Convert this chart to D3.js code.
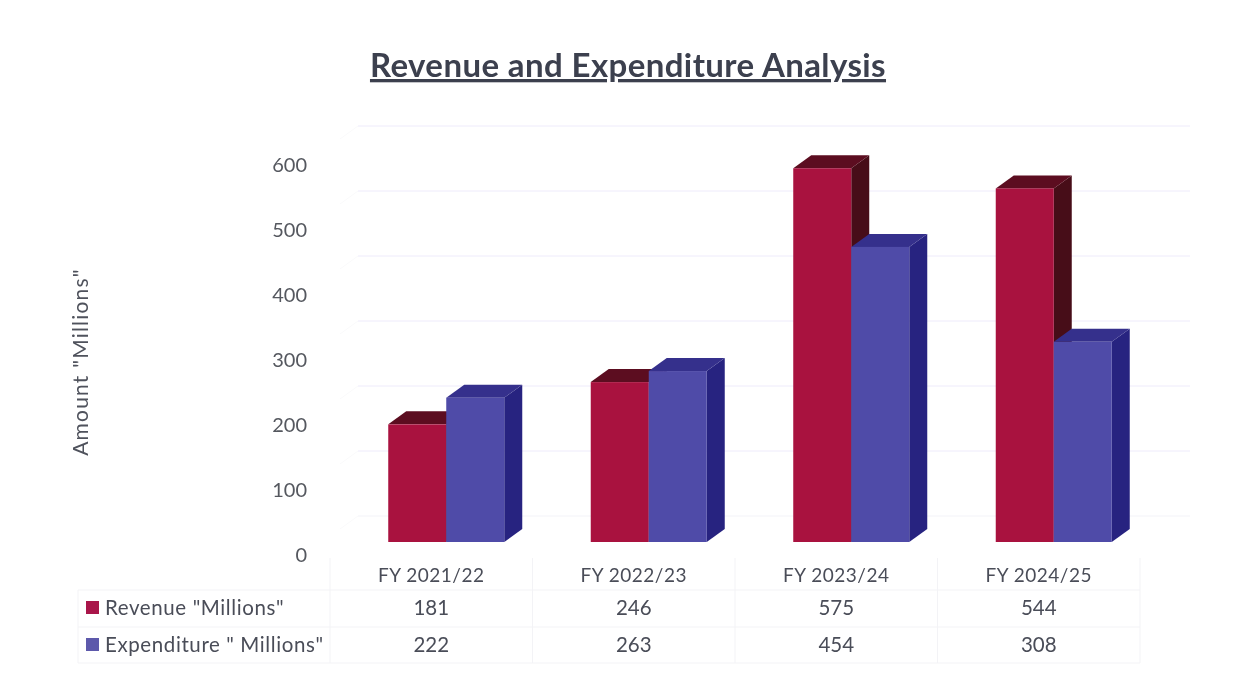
<html>

<head>
    <meta charset="utf-8">
    <title>Revenue and Expenditure Analysis</title>
    <style>
        html, body { margin: 0; padding: 0; background: #fff; overflow: hidden; }
        svg { filter: blur(0.4px); }
        text { font-family: Lato, "Open Sans", sans-serif; fill: #4a4d58; }
    </style>
</head>

<body>
    <script src="https://d3js.org/d3.v7.min.js" charset="utf-8"></script>
    <script>
        var categories = ["FY 2021/22", "FY 2022/23", "FY 2023/24", "FY 2024/25"];
        var revenue = [181, 246, 575, 544];
        var expenditure = [222, 263, 454, 308];
        var seriesNames = ['Revenue "Millions"', 'Expenditure " Millions"'];
        var yTicks = [0, 100, 200, 300, 400, 500, 600];

        var width = 1252, height = 678;
        var svg = d3.select("body").append("svg")
            .attr("width", width)
            .attr("height", height);

        // front of the bars sits on this scale, the back wall is shifted by the depth
        var y = d3.scaleLinear().domain([0, 600]).range([542, 152]);
        var x = d3.scaleBand().domain(categories).range([330, 1140]);
        var barW = 58;
        var depthX = 18, depthY = 13;

        var series = [
            { name: seriesNames[0], values: revenue, front: "#a9123f", top: "#5c0d20", side: "#470d18", key: "#a9164a" },
            { name: seriesNames[1], values: expenditure, front: "#4f4ba8", top: "#35308c", side: "#272380", key: "#5d59ab" }
        ];

        svg.append("text")
            .attr("x", 628).attr("y", 77)
            .attr("text-anchor", "middle")
            .attr("font-size", 33).attr("font-weight", 700)
            .attr("letter-spacing", 0.4)
            .attr("text-decoration", "underline")
            .style("fill", "#3c404e")
            .text("Revenue and Expenditure Analysis");

        // back wall gridlines and the little floor diagonals
        var grid = svg.append("g").attr("stroke-width", 1);
        grid.selectAll("line.g").data(yTicks).enter().append("line")
            .attr("x1", 358).attr("x2", 1190)
            .attr("y1", function (d) { return y(d) - 26; })
            .attr("y2", function (d) { return y(d) - 26; })
            .attr("stroke", function (d) { return d == 0 ? "#f3f3f8" : "#eeebfb"; });
        grid.selectAll("line.d").data(yTicks).enter().append("line")
            .attr("x1", 358).attr("x2", 340)
            .attr("y1", function (d) { return y(d) - 26; })
            .attr("y2", function (d) { return y(d) - 13; })
            .attr("stroke", "#fafafb");

        // y labels
        var yAxis = d3.axisLeft(y).tickValues(yTicks).tickSize(0).tickPadding(0);
        var yg = svg.append("g").attr("transform", "translate(307,13)").call(yAxis);
        yg.select(".domain").remove();
        yg.selectAll("text").attr("font-size", 20).style("font-family", "Lato, sans-serif").style("fill", "#55585f");

        svg.append("text")
            .attr("transform", "translate(88,362) rotate(-90)")
            .attr("text-anchor", "middle")
            .attr("font-size", 21)
            .attr("letter-spacing", 1.2)
            .style("fill", "#4f525c")
            .text('Amount "Millions"');

        // 3d bars, drawn so that the first series' side is covered by the second series' front
        function drawBars(s, offset) {
            var g = svg.append("g");
            var rows = s.values.map(function (v, i) {
                return { v: v, x0: x(categories[i]) + x.bandwidth() / 2 + 15 + offset };
            });
            g.selectAll("path.side").data(rows).enter().append("path")
                .attr("fill", s.side)
                .attr("d", function (d) {
                    var r = d.x0 + barW;
                    return "M" + r + "," + y(d.v) + "l" + depthX + "," + (-depthY) +
                        "V" + (y(0) - depthY) + "l" + (-depthX) + "," + depthY + "Z";
                });
            g.selectAll("path.top").data(rows).enter().append("path")
                .attr("fill", s.top)
                .attr("d", function (d) {
                    return "M" + d.x0 + "," + y(d.v) + "l" + depthX + "," + (-depthY) +
                        "h" + barW + "l" + (-depthX) + "," + depthY + "Z";
                });
            g.selectAll("rect").data(rows).enter().append("rect")
                .attr("x", function (d) { return d.x0; })
                .attr("y", function (d) { return y(d.v); })
                .attr("width", barW)
                .attr("height", function (d) { return y(0) - y(d.v); })
                .attr("fill", s.front);
        }
        drawBars(series[0], -barW);
        drawBars(series[1], 0);

        // data table underneath
        var rowY = [590, 627, 663];
        var table = svg.append("g").attr("stroke", "#f3f3f6").attr("stroke-width", 1);
        rowY.forEach(function (ry) {
            table.append("line").attr("x1", 78).attr("x2", 1140).attr("y1", ry).attr("y2", ry);
        });
        var colX = [78].concat(categories.map(function (c) { return x(c); })).concat([1140]);
        colX.forEach(function (cx, i) {
            table.append("line").attr("x1", cx).attr("x2", cx)
                .attr("y1", i <= 0 ? 590 : 558).attr("y2", 663);
        });

        svg.selectAll("text.cat").data(categories).enter().append("text")
            .attr("class", "cat")
            .attr("x", function (d) { return x(d) + x.bandwidth() / 2; })
            .attr("y", 582)
            .attr("text-anchor", "middle")
            .attr("font-size", 19)
            .attr("letter-spacing", 0.5)
            .text(function (d) { return d; });

        series.forEach(function (s, r) {
            var baseline = rowY[r] + 25;
            svg.append("rect")
                .attr("x", 86).attr("y", rowY[r] + 11)
                .attr("width", 13).attr("height", 13)
                .attr("fill", s.key);
            svg.append("text")
                .attr("x", 105).attr("y", baseline)
                .attr("font-size", 20.5)
                .attr("letter-spacing", 0.6)
                .text(s.name);
            svg.selectAll("text.v" + r).data(s.values).enter().append("text")
                .attr("class", "v" + r)
                .attr("x", function (d, i) { return x(categories[i]) + x.bandwidth() / 2; })
                .attr("y", baseline)
                .attr("text-anchor", "middle")
                .attr("font-size", 20.5)
                .text(function (d) { return d; });
        });
    </script>
</body>

</html>
